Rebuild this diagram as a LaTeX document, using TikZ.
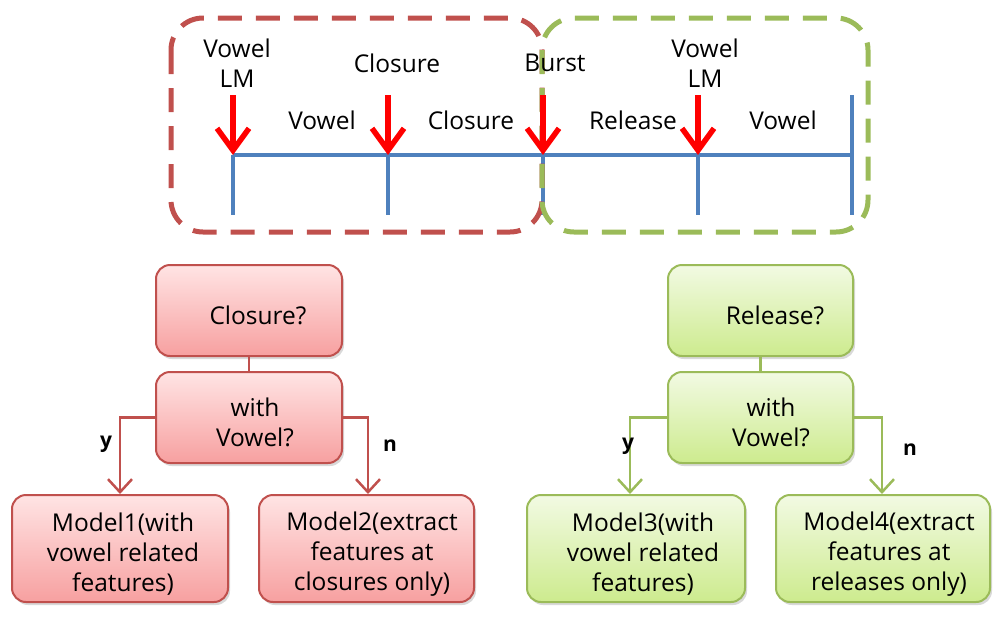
\documentclass[tikz,border=0pt]{standalone}
\usepackage{fontspec}
\setmainfont{Open Sans}
\usetikzlibrary{arrows.meta,shadows,calc}
\definecolor{redb}{HTML}{C0504D}
\definecolor{greenb}{HTML}{9BBB59}
\definecolor{blueL}{HTML}{4F81BD}
\definecolor{redtop}{HTML}{FFE4E4}
\definecolor{redbot}{HTML}{F7A0A0}
\definecolor{greentop}{HTML}{F2FAE3}
\definecolor{greenbot}{HTML}{CDEB8E}
\tikzset{
  every node/.style={font=\fontsize{24.5}{30}\selectfont},
  txt/.style={align=center,inner sep=0pt},
  lbl/.style={font=\fontsize{21}{24}\selectfont\bfseries,inner sep=0pt},
  boxbase/.style={rounded corners=14pt,line width=2pt,
    drop shadow={shadow xshift=2pt,shadow yshift=-3pt,opacity=0.3,fill=black!50}},
  rbox/.style={boxbase,draw=redb,top color=redtop,bottom color=redbot},
  gbox/.style={boxbase,draw=greenb,top color=greentop,bottom color=greenbot},
  qbox/.style={minimum width=186pt,minimum height=91pt},
  mbox/.style={minimum width=216pt,minimum height=107pt},
  rconn/.style={draw=redb,line width=2.5pt,-{Straight Barb[length=13pt 0,width=24pt 0,line width=2.5pt]}},
  gconn/.style={draw=greenb,line width=2.5pt,-{Straight Barb[length=13pt 0,width=24pt 0,line width=2.5pt]}},
  tline/.style={draw=blueL,line width=4pt},
  lmarrow/.style={draw=red,line width=6pt,-{Straight Barb[length=22pt 0,width=32pt 0,line width=5.5pt]}},
  dashbox/.style={line width=5pt,rounded corners=32pt,dash pattern=on 24pt off 14pt}
}
\begin{document}
\begin{tikzpicture}[x=1pt,y=-1pt]
\useasboundingbox (0,0) rectangle (1002,622);

% timeline coordinates
\coordinate (t1) at (233,155);
\coordinate (t2) at (388,155);
\coordinate (t3) at (543,155);
\coordinate (t4) at (698,155);
\coordinate (t5) at (852,155);
\coordinate (b1) at (233,215);
\coordinate (b2) at (388,215);
\coordinate (b3) at (543,215);
\coordinate (b4) at (698,215);
\coordinate (b5) at (852,215);
\coordinate (a1) at (233,95);
\coordinate (a2) at (388,95);
\coordinate (a3) at (543,95);
\coordinate (a4) at (698,95);
\coordinate (a5) at (852,95);

\draw[tline] (t1) -- (t5);
\draw[tline] (t1) -- (b1);
\draw[tline] (t2) -- (b2);
\draw[tline] (t3) -- (b3);
\draw[tline] (t4) -- (b4);
\draw[tline] (a5) -- (b5);

% dashed regions
\coordinate (r1) at (171,18);
\coordinate (r2) at (542,232);
\coordinate (g1) at (542,18);
\coordinate (g2) at (868,232);
\draw[dashbox,draw=redb] (r1) rectangle (r2);
\draw[dashbox,draw=greenb] (g1) rectangle (g2);

% red landmark arrows
\draw[lmarrow] (a1) -- (t1);
\draw[lmarrow] (a2) -- (t2);
\draw[lmarrow] (a3) -- (t3);
\draw[lmarrow] (a4) -- (t4);

% timeline labels
\node[txt] (lm1) at (237,63) {Vowel\\LM};
\node[txt] (cl) at (397,63) {Closure};
\node[txt] (bu) at (555,63) {Burst};
\node[txt] (lm2) at (705,63) {Vowel\\LM};
\node[txt] (sv1) at (322,120) {Vowel};
\node[txt] (sc) at (471,120) {Closure};
\node[txt] (sr) at (633,120) {Release};
\node[txt] (sv2) at (783,120) {Vowel};

% left tree
\node[rbox,qbox] (c1) at (249,310.5) {};
\node[rbox,qbox] (w1) at (249,417.5) {};
\node[rbox,mbox] (m1) at (120,548.5) {};
\node[rbox,mbox,minimum width=215pt] (m2) at (366.5,548.5) {};
\node[txt] (c1t) at (258,315) {Closure?};
\node[txt] (w1t) at (255,422) {with\\Vowel?};
\node[txt] (m1t) at (123,554) {Model1(with\\vowel related\\features)};
\node[txt] (m2t) at (372,554) {Model2(extract\\features at\\closures only)};
\draw[draw=redb,line width=2.5pt] (c1) -- (w1);
\draw[rconn] (w1.west) -| (m1.north);
\draw[rconn] (w1.east) -| ([xshift=1.5pt]m2.north);
\node[lbl] (y1) at (106,444) {y};
\node[lbl] (n1) at (390,446) {n};

% right tree
\node[gbox,qbox,minimum width=185pt] (c2) at (760.5,310.5) {};
\node[gbox,qbox,minimum width=185pt] (w2) at (760.5,417.5) {};
\node[gbox,mbox,minimum width=218pt] (m3) at (636,548.5) {};
\node[gbox,mbox,minimum width=214pt] (m4) at (883,548.5) {};
\node[txt] (c2t) at (775,315) {Release?};
\node[txt] (w2t) at (771,422) {with\\Vowel?};
\node[txt] (m3t) at (643,554) {Model3(with\\vowel related\\features)};
\node[txt] (m4t) at (889,554) {Model4(extract\\features at\\releases only)};
\draw[draw=greenb,line width=2.5pt] (c2) -- (w2);
\draw[gconn] (w2.west) -| ([xshift=-6pt]m3.north);
\draw[gconn] (w2.east) -| ([xshift=-1pt]m4.north);
\node[lbl] (y2) at (628,446) {y};
\node[lbl] (n2) at (910,450) {n};
\end{tikzpicture}
\end{document}
